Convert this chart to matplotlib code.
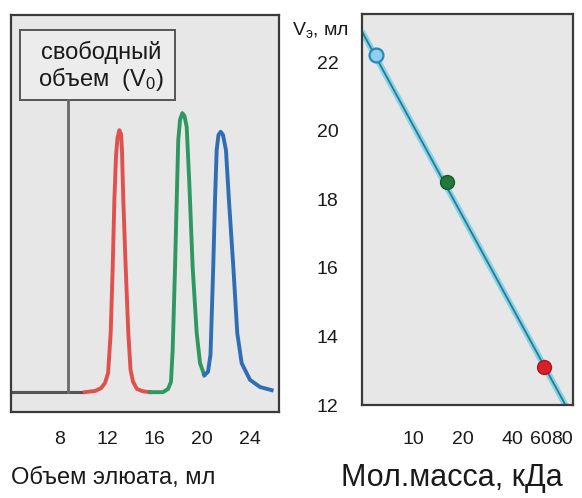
import numpy as np
import matplotlib
matplotlib.use("Agg")
import matplotlib.pyplot as plt
from matplotlib.patches import Rectangle
from matplotlib.ticker import FixedLocator, NullLocator

plt.rcParams['font.family'] = ['Liberation Sans', 'DejaVu Sans']

# --- left panel: elution profile (volume in ml, signal in arbitrary units)
base_ml = [3.9, 10.14]
base_sig = [5.0, 5.0]

red_ml = [10.14, 10.98, 11.49, 11.82, 12.08, 12.30, 12.47, 12.61, 12.75, 12.87, 13.03,
          13.17, 13.25, 13.36, 13.56, 13.78, 13.97, 14.18, 14.51, 15.02, 15.61]
red_sig = [5.0, 5.3, 6.0, 7.3, 9.8, 19.9, 36.5, 53.4, 64.7, 69.0, 71.0,
           70.0, 66.0, 53.4, 36.5, 19.9, 10.6, 7.6, 5.8, 5.2, 5.0]

green_ml = [15.61, 16.70, 17.12, 17.37, 17.51, 17.71, 17.85, 17.98, 18.13, 18.32,
            18.50, 18.69, 18.91, 19.19, 19.53, 19.81, 20.17]
green_sig = [5.0, 5.0, 5.8, 7.6, 15.6, 36.5, 53.4, 68.5, 73.6, 75.3,
             74.6, 71.8, 57.7, 36.5, 19.9, 12.3, 9.3]

blue_ml = [20.17, 20.48, 20.69, 20.92, 21.07, 21.21, 21.36, 21.55, 21.74, 21.99,
           22.24, 22.61, 22.94, 23.31, 24.01, 24.85, 25.83]
blue_sig = [9.3, 10.1, 14.4, 36.5, 53.4, 66.0, 69.8, 70.6, 69.8, 66.0,
            53.4, 36.5, 19.9, 12.3, 8.1, 6.3, 5.5]

v0 = 8.7
elution_ticks = [8, 12, 16, 20, 24]

# --- right panel: calibration
mass_kda = [6.0, 16.1, 62.0]
ve_ml = [22.2, 18.5, 13.1]
fit_mass = [4.9, 84.0]
fit_ve = [22.9, 12.0]
mass_ticks = [10, 20, 40, 60, 80]
ve_ticks = [12, 14, 16, 18, 20, 22]

panel_bg = '#e7e7e7'
frame = '#3a3a3a'
txt = '#1a1a1a'

fig = plt.figure(figsize=(5.82, 4.98), dpi=100)

# left
ax1 = fig.add_axes([0.0189, 0.1727, 0.4605, 0.797])
ax1.set_facecolor(panel_bg)
ax1.plot(base_ml, base_sig, color='#555555', lw=2.2, solid_capstyle='butt')
ax1.plot(red_ml, red_sig, color='#e0504c', lw=2.8)
ax1.plot(green_ml, green_sig, color='#2f9860', lw=2.8)
ax1.plot(blue_ml, blue_sig, color='#2f6db5', lw=2.8)
ax1.plot([v0, v0], [5.0, 78.6], color='#6a6a6a', lw=2.0)
ax1.set_xlim(3.92, 26.45)
ax1.set_ylim(0, 100)
ax1.set_xticks(elution_ticks)
ax1.set_yticks([])
ax1.tick_params(axis='x', length=0, pad=14, labelsize=14, colors=txt)
for s in ax1.spines.values():
    s.set_color(frame)
    s.set_linewidth(1.6)
ax1.add_patch(Rectangle((0.034, 0.786), 0.578, 0.176, transform=ax1.transAxes,
                        facecolor='#ececec', edgecolor='#555555', lw=1.4))
ax1.text(0.337, 0.869, 'свободный\nобъем  ($\\mathregular{V_0}$)', transform=ax1.transAxes,
         ha='center', va='center', fontsize=17, color=txt, linespacing=1.05)
fig.text(0.019, 0.041, 'Объем элюата, мл', fontsize=17, color=txt,
         ha='left', va='center')

# right
ax2 = fig.add_axes([0.622, 0.1867, 0.3625, 0.785])
ax2.set_facecolor(panel_bg)
ax2.set_xscale('log')
ax2.plot(fit_mass, fit_ve, color='#86d3ea', lw=4.5, solid_capstyle='butt')
ax2.plot(fit_mass, fit_ve, color='#2a7a8c', lw=1.3, solid_capstyle='butt')
ax2.plot(mass_kda[0], ve_ml[0], 'o', ms=10, mfc='#8fd0ee', mec='#2a86c0', mew=1.6)
ax2.plot(mass_kda[1], ve_ml[1], 'o', ms=10, mfc='#1f7a3c', mec='#155a2a', mew=1.0)
ax2.plot(mass_kda[2], ve_ml[2], 'o', ms=10, mfc='#d8202a', mec='#a81818', mew=1.0)
ax2.set_xlim(4.91, 93.3)
ax2.set_ylim(12, 23.4)
ax2.xaxis.set_major_locator(FixedLocator(mass_ticks))
ax2.xaxis.set_minor_locator(NullLocator())
ax2.set_xticklabels([str(t) for t in mass_ticks])
ax2.set_yticks(ve_ticks)
ax2.tick_params(axis='x', length=0, pad=19, labelsize=14, colors=txt)
ax2.tick_params(axis='y', length=0, pad=17, labelsize=14, colors=txt)
for s in ax2.spines.values():
    s.set_color(frame)
    s.set_linewidth(1.6)
fig.text(0.599, 0.94, '$\\mathregular{V_э}$, мл', fontsize=14, color=txt,
         ha='right', va='center')
fig.text(0.776, 0.04, 'Мол.масса, кДа', fontsize=22, color=txt,
         ha='center', va='center')

fig.savefig('out.png', dpi=100)
